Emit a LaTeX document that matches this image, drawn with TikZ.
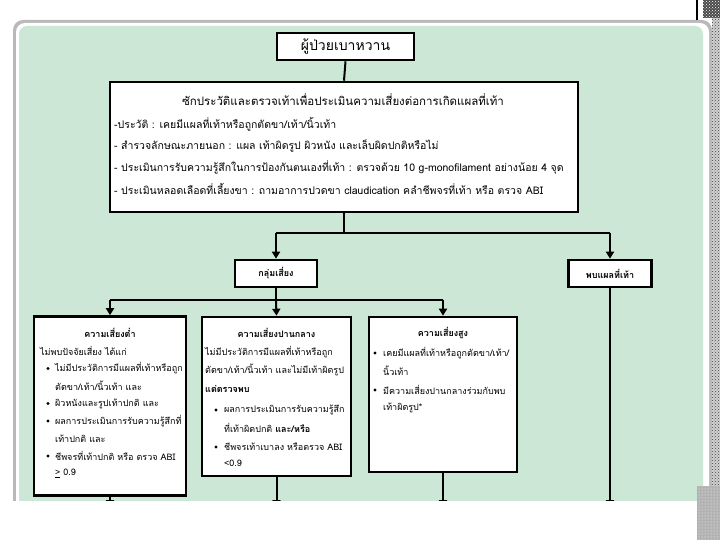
\documentclass[tikz,border=0pt]{standalone}
\usepackage{fontspec}
\newfontfamily\thai[Script=Thai]{Loma}
\usetikzlibrary{arrows.meta,patterns}
\definecolor{panel}{RGB}{204,231,213}
\begin{document}
\begin{tikzpicture}[x=1pt,y=-1pt,
  box/.style={draw=black,line width=2.6pt,fill=white,inner sep=0pt},
  conn/.style={line width=2pt},
  arr/.style={line width=2pt,-{Triangle[width=8pt,length=7pt]}},
  txt/.style={anchor=west,inner sep=0pt,font=\thai\fontsize{9}{11}\selectfont},
  htxt/.style={anchor=west,inner sep=0pt,font=\thai\fontsize{10.5}{12}\selectfont},
  ttl/.style={inner sep=0pt,font=\thai\bfseries\fontsize{9}{11}\selectfont},
  bul/.style={fill=black},
]
\useasboundingbox (0,0) rectangle (720,540);
\fill[white] (0,0) rectangle (720,540);
% panel
\fill[gray!55, rounded corners=10pt] (13,20) rectangle (712,530);
\fill[white, rounded corners=9pt] (16,23) rectangle (709,530);
\fill[panel, rounded corners=8pt] (19,26) rectangle (703,530);

% boxes
\node[box, minimum width=137pt, minimum height=27pt, font=\thai\fontsize{14}{16}\selectfont] (top) at (345.5,46.5) {ผู้ป่วยเบาหวาน};
\node[box, minimum width=468pt, minimum height=130pt] (hist) at (344,147) {};
\node[box, minimum width=82pt, minimum height=27pt, font=\thai\bfseries\fontsize{9}{11}\selectfont] (risk) at (276,273.5) {กลุ่มเสี่ยง};
\node[box, minimum width=83pt, minimum height=27pt, font=\thai\bfseries\fontsize{9}{11}\selectfont] (ulcer) at (610,273.5) {พบแผลที่เท้า};
\node[box, minimum width=152pt, minimum height=179pt] (low) at (110,406) {};
\node[box, minimum width=149pt, minimum height=159pt] (mid) at (276.5,396.5) {};
\node[box, minimum width=148pt, minimum height=155pt] (high) at (443,394.5) {};

% history box text
\node[inner sep=0pt, font=\thai\fontsize{11.5}{13}\selectfont] (hT) at (343,100) {ซักประวัติและตรวจเท้าเพื่อประเมินความเสี่ยงต่อการเกิดแผลที่เท้า};
\node[htxt] (h1) at (114,124) {-ประวัติ : เคยมีแผลที่เท้าหรือถูกตัดขา/เท้า/นิ้วเท้า};
\node[htxt] (h2) at (114,146) {- สำรวจลักษณะภายนอก : แผล เท้าผิดรูป ผิวหนัง และเล็บผิดปกติหรือไม่};
\node[htxt] (h3) at (114,167) {- ประเมินการรับความรู้สึกในการป้องกันตนเองที่เท้า : ตรวจด้วย 10 g-monofilament อย่างน้อย 4 จุด};
\node[htxt] (h4) at (114,189) {- ประเมินหลอดเลือดที่เลี้ยงขา : ถามอาการปวดขา claudication คลำชีพจรที่เท้า หรือ ตรวจ ABI};

% low risk text
\node[ttl] (lT) at (110,333) {ความเสี่ยงต่ำ};
\node[txt] (l0) at (40,351) {ไม่พบปัจจัยเสี่ยง ได้แก่};
\fill[bul] (48,368.5) circle (1.7);
\node[txt] (l1) at (55,368.5) {ไม่มีประวัติการมีแผลที่เท้าหรือถูก};
\node[txt] (l2) at (55,386) {ตัดขา/เท้า/นิ้วเท้า และ};
\fill[bul] (48,403.5) circle (1.7);
\node[txt] (l3) at (55,403.5) {ผิวหนังและรูปเท้าปกติ และ};
\fill[bul] (48,421) circle (1.7);
\node[txt] (l4) at (55,421) {ผลการประเมินการรับความรู้สึกที่};
\node[txt] (l5) at (55,438.5) {เท้าปกติ และ};
\fill[bul] (48,456) circle (1.7);
\node[txt] (l6) at (55,456) {ชีพจรที่เท้าปกติ หรือ ตรวจ ABI};
\node[txt] (l7) at (55,473.5) {\underline{>} 0.9};

% moderate risk text
\node[ttl] (mT) at (276.5,333) {ความเสี่ยงปานกลาง};
\node[txt] (m0) at (205,352) {ไม่มีประวัติการมีแผลที่เท้าหรือถูก};
\node[txt] (m1) at (205,370) {ตัดขา/เท้า/นิ้วเท้า และไม่มีเท้าผิดรูป};
\node[txt, font=\thai\bfseries\fontsize{9}{11}\selectfont] (m2) at (205,389) {แต่ตรวจพบ};
\fill[bul] (216,410) circle (1.7);
\node[txt] (m3) at (224,410) {ผลการประเมินการรับความรู้สึก};
\node[txt] (m4) at (224,428) {ที่เท้าผิดปกติ \textbf{และ/หรือ}};
\fill[bul] (216,447) circle (1.7);
\node[txt] (m5) at (224,447) {ชีพจรเท้าเบาลง หรือตรวจ ABI};
\node[txt] (m6) at (224,463) {<0.9};

% high risk text
\node[ttl] (gT) at (443,333) {ความเสี่ยงสูง};
\fill[bul] (375,353) circle (1.7);
\node[txt] (g1) at (383,353) {เคยมีแผลที่เท้าหรือถูกตัดขา/เท้า/};
\node[txt] (g2) at (383,371) {นิ้วเท้า};
\fill[bul] (375,390) circle (1.7);
\node[txt] (g3) at (383,390) {มีความเสี่ยงปานกลางร่วมกับพบ};
\node[txt] (g4) at (383,408) {เท้าผิดรูป*};

% connectors
\coordinate (j1) at (344,233);
\coordinate (j1l) at (276,233);
\coordinate (j1r) at (610,233);
\coordinate (j2) at (276,300);
\coordinate (j2l) at (110,300);
\coordinate (j2r) at (443,300);
\coordinate (e1) at (110,507);
\coordinate (e2) at (276.5,507);
\coordinate (e3) at (443,507);
\coordinate (e4) at (610,507);
\draw[conn] (top.south) -- (hist.north);
\draw[conn] (hist.south) -- (j1);
\draw[conn] (j1l) -- (j1r);
\draw[arr] (j1l) -- (risk.north);
\draw[arr] (j1r) -- (ulcer.north);
\draw[conn] (risk.south) -- (j2);
\draw[conn] (j2l) -- (j2r);
\draw[arr] (j2l) -- (low.north);
\draw[arr] (j2) -- (mid.north);
\draw[arr] (j2r) -- (high.north);
\draw[arr] (low.south) -- (e1);
\draw[arr] (mid.south) -- (e2);
\draw[arr] (high.south) -- (e3);
\draw[arr] (ulcer.south) -- (e4);

% bottom cut and right-side decoration
\fill[white] (0,501) rectangle (697,540);
\fill[gray!35] (712,0) rectangle (720,540);
\fill[pattern=crosshatch dots, pattern color=black!75] (712,0) rectangle (720,540);
\fill[black!70] (703,0) rectangle (720,18);
\fill[pattern=crosshatch dots, pattern color=white] (703,0) rectangle (720,18);
\draw[line width=1.2pt] (697,0) -- (697,20);
\fill[gray!60] (697,486) rectangle (720,540);
\fill[pattern=dots, pattern color=white] (697,486) rectangle (720,540);
\end{tikzpicture}
\end{document}
